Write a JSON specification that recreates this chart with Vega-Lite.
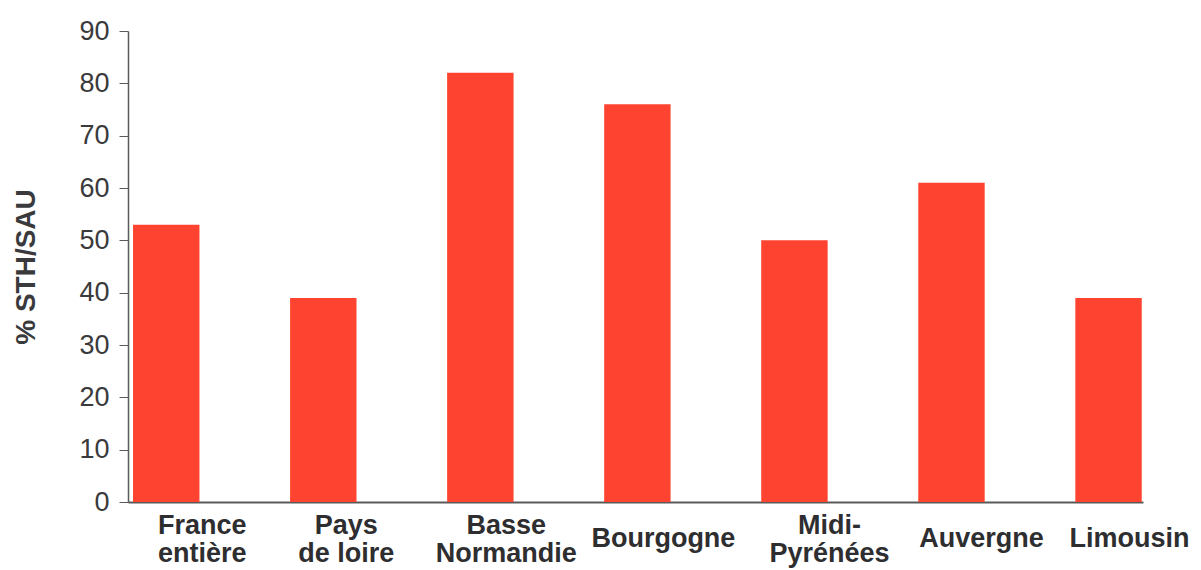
{
  "$schema": "https://vega.github.io/schema/vega-lite/v6.json",
  "width": 1015,
  "height": 471,
  "autosize": "none",
  "padding": {"left": 128, "top": 31, "right": 58, "bottom": 68},
  "background": "white",
  "config": {"view": {"stroke": null}, "font": "Liberation Sans"},
  "data": {
    "values": [
      {"region": "France entière", "pct": 53},
      {"region": "Pays de loire", "pct": 39},
      {"region": "Basse Normandie", "pct": 82},
      {"region": "Bourgogne", "pct": 76},
      {"region": "Midi-Pyrénées", "pct": 50},
      {"region": "Auvergne", "pct": 61},
      {"region": "Limousin", "pct": 39}
    ]
  },
  "mark": {"type": "bar", "color": "#FE4430"},
  "encoding": {
    "x": {
      "field": "region",
      "type": "nominal",
      "sort": null,
      "scale": {"paddingInner": 0.577, "paddingOuter": 0.02, "align": 0.8},
      "axis": {
        "title": null,
        "ticks": false,
        "tickSize": 0,
        "labelAngle": 0,
        "labelFontSize": 27,
        "labelFontWeight": "bold",
        "labelColor": "#2e2e30",
        "labelLineHeight": 28,
        "labelBaseline": "middle",
        "labelPadding": {
          "condition": {"test": "indexof(['France entière','Pays de loire','Basse Normandie','Midi-Pyrénées'], datum.value) >= 0", "value": 23},
          "value": 36
        },
        "labelOffset": {
          "condition": [
            {"test": "datum.value == 'France entière'", "value": 36},
            {"test": "datum.value == 'Pays de loire'", "value": 23},
            {"test": "datum.value == 'Basse Normandie'", "value": 26},
            {"test": "datum.value == 'Bourgogne'", "value": 26},
            {"test": "datum.value == 'Midi-Pyrénées'", "value": 35},
            {"test": "datum.value == 'Auvergne'", "value": 30}
          ],
          "value": 21
        },
        "labelOverlap": false,
        "labelBound": false,
        "domainColor": "#5a5a5a",
        "domainWidth": 2,
        "labelExpr": "datum.label == 'Pays de loire' ? ['Pays', 'de loire'] : datum.label == 'Midi-Pyrénées' ? ['Midi-', 'Pyrénées'] : datum.label == 'France entière' ? ['France', 'entière'] : datum.label == 'Basse Normandie' ? ['Basse', 'Normandie'] : datum.label"
      }
    },
    "y": {
      "field": "pct",
      "type": "quantitative",
      "scale": {"domain": [0, 90], "nice": false},
      "axis": {
        "title": "% STH/SAU",
        "titleFontSize": 28,
        "titleFontWeight": "bold",
        "titleColor": "#3a3a3c",
        "titlePadding": 38,
        "values": [0, 10, 20, 30, 40, 50, 60, 70, 80, 90],
        "grid": false,
        "tickSize": 9,
        "tickColor": "#5a5a5a",
        "domainColor": "#5a5a5a",
        "domainWidth": 1.5,
        "labelFontSize": 27,
        "labelColor": "#3a3a3c",
        "labelPadding": 10
      }
    }
  }
}
